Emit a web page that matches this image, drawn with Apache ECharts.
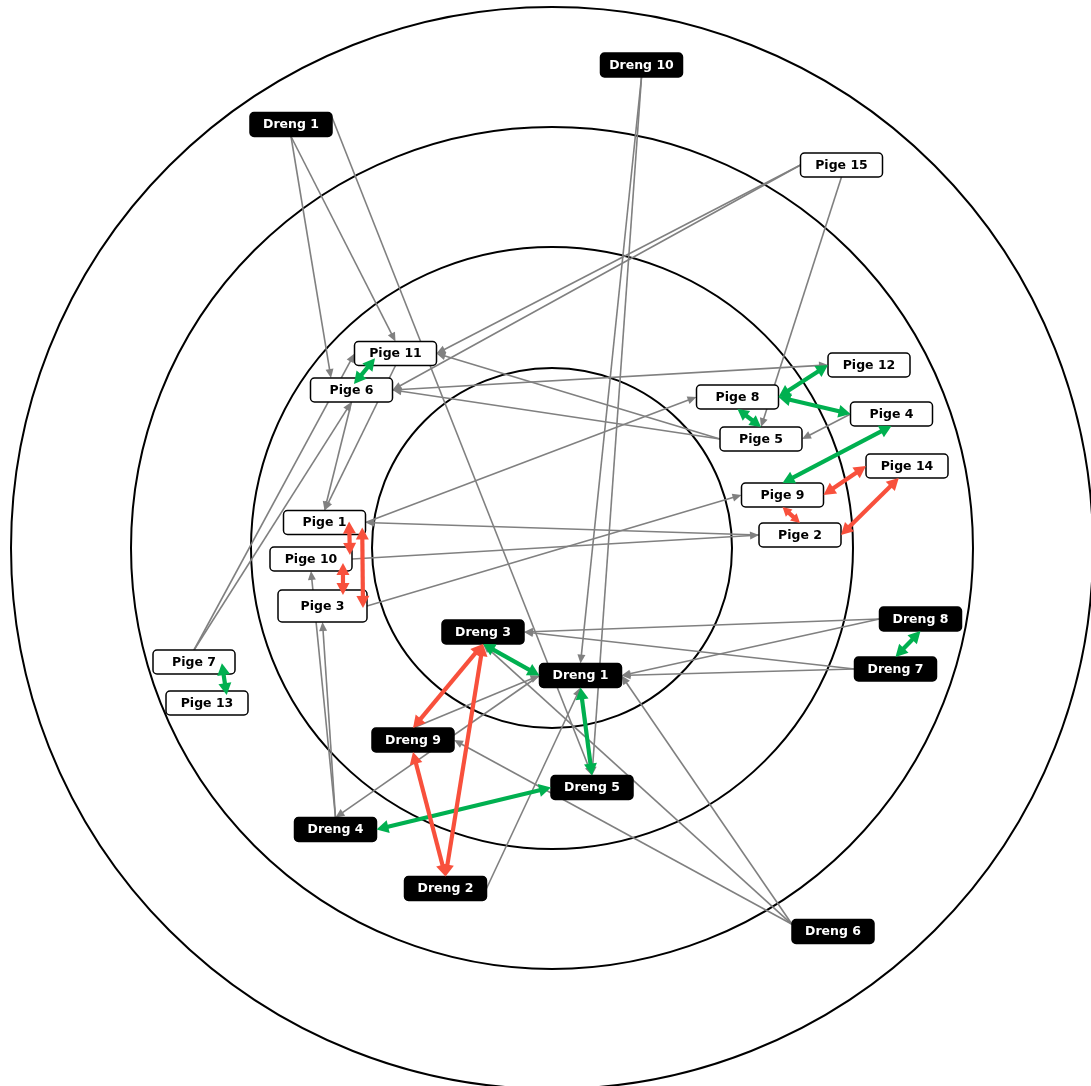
<!DOCTYPE html>
<html>
<head>
<meta charset="utf-8">
<script src="https://cdn.jsdelivr.net/npm/echarts@6/dist/echarts.min.js"></script>
<style>
html,body{margin:0;padding:0;background:#fff;}
#main{width:1091px;height:1086px;}
</style>
</head>
<body>
<div id="main"></div>
<script>
// ---------- DATA ----------
const nodeIds = ['Dreng 10','Dreng 1 (ytre)','Pige 15','Pige 11','Pige 6','Pige 12','Pige 8','Pige 4','Pige 5','Pige 14','Pige 9','Pige 2','Pige 1','Pige 10','Pige 3','Pige 7','Pige 13','Dreng 3','Dreng 1','Dreng 8','Dreng 7','Dreng 9','Dreng 5','Dreng 4','Dreng 2','Dreng 6'];
const nodeLabels = ['Dreng 10','Dreng 1','Pige 15','Pige 11','Pige 6','Pige 12','Pige 8','Pige 4','Pige 5','Pige 14','Pige 9','Pige 2','Pige 1','Pige 10','Pige 3','Pige 7','Pige 13','Dreng 3','Dreng 1','Dreng 8','Dreng 7','Dreng 9','Dreng 5','Dreng 4','Dreng 2','Dreng 6'];
const nodeX = [641.5,291,841.5,395.5,351.5,869,737.5,891.5,761,907,782.5,800,324.5,311,322.5,194,207,483,580.5,920.5,895.5,413,592,335.5,445.5,833];
const nodeY = [65,124.5,165,353.5,390,365,397,414,439,466,495,535,522.5,559,606,662,703,632,675.5,619,669,740,787.5,829.5,888.5,931.5];

const ringRadii = [180, 301, 421, 541];
const ringCenter = [552, 548];

const oneWayLinks = [
  ['Dreng 1 (ytre)','Pige 6'],
  ['Dreng 1 (ytre)','Pige 11'],
  ['Dreng 1 (ytre)','Dreng 5'],
  ['Dreng 10','Dreng 1'],
  ['Dreng 10','Dreng 5'],
  ['Pige 15','Pige 11'],
  ['Pige 15','Pige 6'],
  ['Pige 15','Pige 5'],
  ['Pige 6','Pige 12'],
  ['Pige 5','Pige 6'],
  ['Pige 5','Pige 11'],
  ['Pige 4','Pige 5'],
  ['Pige 1','Pige 8'],
  ['Pige 2','Pige 1'],
  ['Pige 10','Pige 2'],
  ['Pige 3','Pige 9'],
  ['Pige 6','Pige 1'],
  ['Pige 11','Pige 1'],
  ['Pige 7','Pige 6'],
  ['Pige 7','Pige 11'],
  ['Dreng 4','Pige 3'],
  ['Dreng 4','Pige 10'],
  ['Dreng 1','Dreng 4'],
  ['Dreng 9','Dreng 1'],
  ['Dreng 2','Dreng 1'],
  ['Dreng 6','Dreng 1'],
  ['Dreng 6','Dreng 3'],
  ['Dreng 6','Dreng 9'],
  ['Dreng 8','Dreng 3'],
  ['Dreng 8','Dreng 1'],
  ['Dreng 7','Dreng 1'],
  ['Dreng 7','Dreng 3']
];
const mutualPositive = [
  ['Pige 11','Pige 6'],['Pige 12','Pige 8'],['Pige 8','Pige 4'],['Pige 8','Pige 5'],
  ['Pige 4','Pige 9'],['Pige 7','Pige 13'],['Dreng 8','Dreng 7'],['Dreng 3','Dreng 1'],
  ['Dreng 1','Dreng 5'],['Dreng 5','Dreng 4']
];
const mutualNegative = [
  ['Pige 14','Pige 9'],['Pige 14','Pige 2'],['Pige 9','Pige 2'],
  ['Pige 1','Pige 10'],['Pige 10','Pige 3'],['Pige 1','Pige 3'],
  ['Dreng 3','Dreng 9'],['Dreng 3','Dreng 2'],['Dreng 9','Dreng 2']
];

// ---------- LAYOUT / STYLE ----------
const boxDefault = [82, 24];
const boxOverride = { 'Pige 3': [89, 32] };
// connection point on each box: side letter or fraction [fx, fy] of the box
const anchorOverrides = {
  'Dreng 1 (ytre)>Pige 6': [null, [0.25, 0]],
  'Dreng 1 (ytre)>Dreng 5': [[1, 0.2], null],
  'Pige 7>Pige 11': [null, 'l'],
  'Dreng 1>Dreng 4': ['l', 't'],
  'Dreng 9>Dreng 1': ['t', 'l'],
  'Dreng 2>Dreng 1': ['r', 'b'],
  'Dreng 6>Dreng 1': [[0, 0.2], 'r'],
  'Dreng 6>Dreng 3': [[0, 0.2], 'b'],
  'Dreng 6>Dreng 9': [[0, 0.2], 'r'],
  'Dreng 3>Dreng 1': ['b', 'l'],
  'Pige 14>Pige 2': [[0.4, 1], 'r'],
  'Pige 11>Pige 6': [[0.25, 0.7], [0.53, 0.25]],
  'Pige 7>Pige 13': [[0.84, 0.55], [0.74, 0.17]],
  'Pige 1>Pige 10': [[0.8, 0.46], [0.975, 0.33]],
  'Pige 10>Pige 3': [[0.89, 0.67], [0.73, 0.16]],
  'Pige 1>Pige 3': [[0.96, 0.71], [0.955, 0.56]]
};
const edgeStyles = {
  gray: { color: '#808080', width: 1.6, len: 9, half: 4, both: false },
  pos:  { color: '#00b050', width: 4.2, len: 12, half: 6.5, both: true },
  neg:  { color: '#f8503c', width: 4.2, len: 12, half: 6.5, both: true }
};

const idIndex = {};
nodeIds.forEach((id, i) => { idIndex[id] = i; });
function boxSize(i) { return boxOverride[nodeIds[i]] || boxDefault; }

function anchorPoint(n, other, ov, api) {
  const c = api.coord([nodeX[n], nodeY[n]]);
  const o = api.coord([nodeX[other], nodeY[other]]);
  const px = api.size(boxSize(n));
  const w = px[0], h = px[1];
  if (Array.isArray(ov)) return [c[0] - w / 2 + ov[0] * w, c[1] - h / 2 + ov[1] * h];
  let side = ov;
  if (!side) {
    const dx = o[0] - c[0], dy = o[1] - c[1];
    side = Math.abs(dy) > 0.6 * Math.abs(dx) ? (dy > 0 ? 'b' : 't') : (dx > 0 ? 'r' : 'l');
  }
  if (side === 't') return [c[0], c[1] - h / 2];
  if (side === 'b') return [c[0], c[1] + h / 2];
  if (side === 'l') return [c[0] - w / 2, c[1]];
  return [c[0] + w / 2, c[1]];
}

function arrowHead(tip, ux, uy, hl, hw, color) {
  const bx = tip[0] - ux * hl, by = tip[1] - uy * hl;
  const nx = -uy, ny = ux;
  return {
    type: 'polygon',
    shape: { points: [tip, [bx + nx * hw, by + ny * hw], [bx - nx * hw, by - ny * hw]] },
    style: { fill: color }
  };
}

function edgeSeries(list, styleKey, z) {
  const st = edgeStyles[styleKey];
  return {
    type: 'custom',
    coordinateSystem: 'cartesian2d',
    z: z,
    silent: true,
    clip: false,
    data: list.map(l => [idIndex[l[0]], idIndex[l[1]]]),
    renderItem: function (params, api) {
      const s = api.value(0), t = api.value(1);
      const ov = anchorOverrides[nodeIds[s] + '>' + nodeIds[t]] || [null, null];
      const p0 = anchorPoint(s, t, ov[0], api);
      const p1 = anchorPoint(t, s, ov[1], api);
      const dx = p1[0] - p0[0], dy = p1[1] - p0[1];
      const len = Math.hypot(dx, dy) || 1;
      const ux = dx / len, uy = dy / len;
      const hl = Math.min(st.len, len * (st.both ? 0.38 : 0.6));
      const hw = st.half * hl / st.len;
      const back = hl * 0.8;
      const start = st.both ? [p0[0] + ux * back, p0[1] + uy * back] : p0;
      const end = [p1[0] - ux * back, p1[1] - uy * back];
      const children = [{
        type: 'line',
        shape: { x1: start[0], y1: start[1], x2: end[0], y2: end[1] },
        style: { stroke: st.color, lineWidth: st.width }
      }, arrowHead(p1, ux, uy, hl, hw, st.color)];
      if (st.both) children.push(arrowHead(p0, -ux, -uy, hl, hw, st.color));
      return { type: 'group', children: children };
    }
  };
}

const chart = echarts.init(document.getElementById('main'), null, { renderer: 'canvas' });
const option = {
  animation: false,
  backgroundColor: '#ffffff',
  grid: { left: 0, right: 0, top: 0, bottom: 0 },
  xAxis: { type: 'value', min: 0, max: 1091, show: false },
  yAxis: { type: 'value', min: 0, max: 1086, inverse: true, show: false },
  series: [
    {
      type: 'custom',
      coordinateSystem: 'cartesian2d',
      z: 1,
      silent: true,
      clip: false,
      data: ringRadii.map(r => [ringCenter[0], ringCenter[1], r]),
      renderItem: function (params, api) {
        const c = api.coord([api.value(0), api.value(1)]);
        const r = api.size([api.value(2), 0])[0];
        return { type: 'circle', shape: { cx: c[0], cy: c[1], r: r }, style: { fill: 'none', stroke: '#000', lineWidth: 2 } };
      }
    },
    edgeSeries(oneWayLinks, 'gray', 2),
    {
      type: 'custom',
      coordinateSystem: 'cartesian2d',
      z: 3,
      silent: true,
      clip: false,
      data: nodeIds.map((id, i) => [nodeX[i], nodeY[i], i]),
      renderItem: function (params, api) {
        const i = api.value(2);
        const c = api.coord([api.value(0), api.value(1)]);
        const px = api.size(boxSize(i));
        const boy = nodeLabels[i].indexOf('Dreng') === 0;
        return {
          type: 'group',
          children: [{
            type: 'rect',
            shape: { x: c[0] - px[0] / 2, y: c[1] - px[1] / 2, width: px[0], height: px[1], r: 4 },
            style: { fill: boy ? '#000' : '#fff', stroke: '#000', lineWidth: 1.5 }
          }, {
            type: 'text',
            x: c[0], y: c[1] + 0.5,
            style: {
              text: nodeLabels[i],
              fill: boy ? '#fff' : '#000',
              font: 'bold 12.5px "DejaVu Sans", Verdana, sans-serif',
              align: 'center', verticalAlign: 'middle',
              textAlign: 'center', textVerticalAlign: 'middle'
            }
          }]
        };
      }
    },
    edgeSeries(mutualPositive, 'pos', 4),
    edgeSeries(mutualNegative, 'neg', 4)
  ]
};
chart.setOption(option);
</script>
</body>
</html>
